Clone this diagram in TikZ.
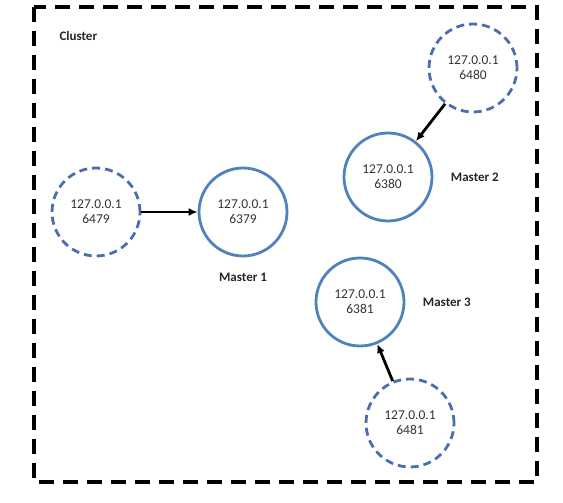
\documentclass[tikz,border=0pt]{standalone}
\usepackage{fontspec}
\setmainfont{Carlito}
\usetikzlibrary{positioning,arrows.meta}
\definecolor{NodeBlue}{HTML}{4F81BD}
\definecolor{SlaveBlue}{HTML}{4A6FAE}
\definecolor{LabelGray}{HTML}{333333}

\begin{document}
\begin{tikzpicture}[x=1pt,y=-1pt,node distance=6pt and 14pt,>={Latex[length=9pt,width=8pt]},
 master/.style={circle,draw=NodeBlue,line width=2.8pt,minimum size=88pt,inner sep=0pt,align=center,text=LabelGray,font=\fontsize{13.5}{15}\selectfont},
 slave/.style={master,draw=SlaveBlue,dash pattern=on 8pt off 5pt},
 tag/.style={font=\fontsize{13}{15}\selectfont\bfseries,text=black!85},
 link/.style={->,line width=2.8pt}]
\useasboundingbox (0,0) rectangle (563,503);
\draw[line width=3.2pt,dash pattern=on 15pt off 9pt] (34,7) rectangle (537,482);
\node[tag,anchor=west] (cl) at (56,36) {Cluster};
\node[master] (m1) at (243,212) {127.0.0.1\\6379};
\node[master] (m2) at (388,177) {127.0.0.1\\6380};
\node[master] (m3) at (360,302) {127.0.0.1\\6381};
\node[slave] (s1) at (96,212) {127.0.0.1\\6479};
\node[slave] (s2) at (473,68) {127.0.0.1\\6480};
\node[slave] (s3) at (410,423) {127.0.0.1\\6481};
\node[tag,below=12pt of m1] (l1) {Master 1};
\node[tag,right=of m2] (l2) {Master 2};
\node[tag,right=of m3] (l3) {Master 3};
\draw[link] (s1)--(m1);\draw[link] (s2)--(m2);\draw[link] (s3)--(m3);
\end{tikzpicture}
\end{document}
